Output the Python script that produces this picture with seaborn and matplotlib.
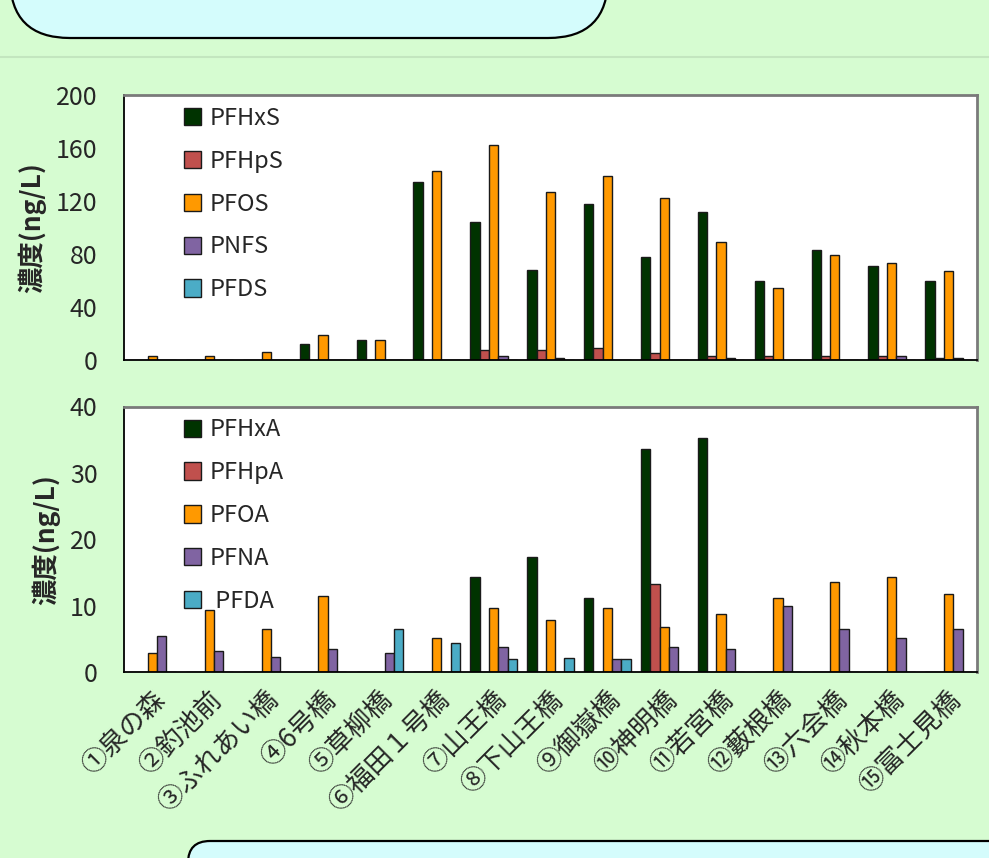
import numpy as np
import pandas as pd
import matplotlib
matplotlib.use("Agg")
import matplotlib.pyplot as plt
from matplotlib.patches import FancyBboxPatch, Patch
from matplotlib.transforms import ScaledTranslation
import seaborn as sns

# --- data -----------------------------------------------------------------
sites = ["①泉の森", "②釣池前", "③ふれあい橋", "④6号橋", "⑤草柳橋",
         "⑥福田１号橋", "⑦山王橋", "⑧下山王橋", "⑨御嶽橋", "⑩神明橋",
         "⑪若宮橋", "⑫藪根橋", "⑬六会橋", "⑭秋本橋", "⑮富士見橋"]

# sulfonates (ng/L)
pfhxs = [0, 0, 0, 12, 15, 134, 104, 68, 118, 78, 112, 60, 83, 71, 60]
pfhps = [0, 0, 0, 0, 0, 0, 7.5, 7.5, 9, 5, 3, 3, 3, 3, 1.5]
pfos = [3, 3, 6, 19, 15, 143, 162, 127, 139, 122, 89, 54, 79, 73, 67]
pnfs = [0, 0, 0, 0, 0, 0, 3, 1.5, 0, 0, 1.5, 0, 0, 3, 1.5]
pfds = [0, 0, 0, 0, 0, 0, 0, 0, 0, 0, 0, 0, 0, 0, 0]

# carboxylates (ng/L)
pfhxa = [0, 0, 0, 0, 0, 0, 14.3, 17.4, 11.2, 33.6, 35.3, 0, 0, 0, 0]
pfhpa = [0, 0, 0, 0, 0, 0, 0, 0, 0, 13.2, 0, 0, 0, 0, 0]
pfoa = [2.9, 9.3, 6.5, 11.5, 0, 5.1, 9.6, 7.9, 9.6, 6.8, 8.7, 11.2, 13.5, 14.3, 11.8]
pfna = [5.4, 3.2, 2.3, 3.4, 2.8, 0, 3.7, 0, 2.0, 3.7, 3.5, 9.9, 6.5, 5.1, 6.5]
pfda = [0, 0, 0, 0, 6.5, 4.3, 2.0, 2.1, 2.0, 0, 0, 0, 0, 0, 0]

upper_names = ["PFHxS", "PFHpS", "PFOS", "PNFS", "PFDS"]
lower_names = ["PFHxA", "PFHpA", "PFOA", "PFNA", "PFDA"]
lower_legend = ["PFHxA", "PFHpA", "PFOA", "PFNA", " PFDA"]
series_colors = ["#003300", "#C0504D", "#FF9900", "#8064A2", "#4BACC6"]

upper_ticks = [0, 40, 80, 120, 160, 200]
lower_ticks = [0, 10, 20, 30, 40]

# --- styling --------------------------------------------------------------
sns.set_style("white")
plt.rcParams["font.family"] = ["Noto Sans CJK JP", "DejaVu Sans"]

BG = "#D6FCD1"
BOX = "#D4FCFC"
EDGE = "#1a1a1a"

upper = pd.DataFrame({"地点": sites, "PFHxS": pfhxs, "PFHpS": pfhps,
                      "PFOS": pfos, "PNFS": pnfs, "PFDS": pfds}).melt(
    id_vars="地点", var_name="物質", value_name="濃度")
lower = pd.DataFrame({"地点": sites, "PFHxA": pfhxa, "PFHpA": pfhpa,
                      "PFOA": pfoa, "PFNA": pfna, "PFDA": pfda}).melt(
    id_vars="地点", var_name="物質", value_name="濃度")

W, H = 989, 858
fig = plt.figure(figsize=(W / 100, H / 100), dpi=100)
fig.patch.set_facecolor(BG)

# page decoration in pixel units
bg = fig.add_axes([0, 0, 1, 1], zorder=0)
bg.set_xlim(0, W)
bg.set_ylim(H, 0)
bg.axis("off")
bg.add_patch(FancyBboxPatch((10, -120), 598, 158,
                            boxstyle="round,pad=0,rounding_size=60",
                            facecolor=BOX, edgecolor="black", linewidth=1.6))
bg.plot([0, W], [57, 57], color="#C3E6BF", linewidth=1.5)
bg.add_patch(FancyBboxPatch((188, 841), 900, 100,
                            boxstyle="round,pad=0,rounding_size=22",
                            facecolor=BOX, edgecolor="black", linewidth=1.6))

ax1 = fig.add_axes([124 / W, 1 - 360 / H, 853 / W, 265 / H], zorder=1)
ax2 = fig.add_axes([124 / W, 1 - 672 / H, 853 / W, 265.5 / H], zorder=1)


def draw(ax, df, names, legend_labels, ticks):
    sns.barplot(data=df, x="地点", y="濃度", hue="物質", hue_order=names,
                palette=dict(zip(names, series_colors)), saturation=1,
                width=0.82, edgecolor=EDGE, linewidth=1, errorbar=None,
                legend=False, ax=ax)
    ax.set_facecolor("white")
    ax.set_xlim(-0.5, len(sites) - 0.5)
    ax.set_ylim(ticks[0], ticks[-1])
    ax.set_yticks(ticks)
    ax.set_xlabel("")
    ax.set_ylabel("濃度(ng/L)", fontsize=19, fontweight="bold", labelpad=7)
    ax.tick_params(axis="y", direction="in", length=6.5, width=1,
                   pad=19, labelsize=18, color="#333333")
    ax.tick_params(axis="x", which="major", length=0)
    ax.set_xticks(np.arange(0.5, len(sites) - 1, 1), minor=True)
    ax.tick_params(axis="x", which="minor", direction="in", length=6,
                   width=1, color="#404040")
    for side in ("left", "bottom"):
        ax.spines[side].set_color("black")
        ax.spines[side].set_linewidth(1.3)
    for side in ("top", "right"):
        ax.spines[side].set_color("#7a7a7a")
        ax.spines[side].set_linewidth(2)
    handles = [Patch(facecolor=c, edgecolor=EDGE, linewidth=1)
               for c in series_colors]
    ax.legend(handles, legend_labels, loc="upper left",
              bbox_to_anchor=(0.07, 0.955), frameon=False, fontsize=17,
              handlelength=0.75, handleheight=0.75, handletextpad=0.35,
              labelspacing=0.84, borderaxespad=0, borderpad=0)


draw(ax1, upper, upper_names, upper_names, upper_ticks)
draw(ax2, lower, lower_names, lower_legend, lower_ticks)

ax1.set_xticklabels([])
ax2.set_xticks(range(len(sites)))
ax2.set_xticklabels(sites, rotation=45, ha="right", va="center",
                    rotation_mode="anchor", fontsize=19)
ax2.tick_params(axis="x", which="major", pad=17)
shift = ScaledTranslation(6 / 72, 0, fig.dpi_scale_trans)
for lab in ax2.get_xticklabels():
    lab.set_transform(lab.get_transform() + shift)

fig.savefig("out.png", dpi=100, facecolor=BG)
